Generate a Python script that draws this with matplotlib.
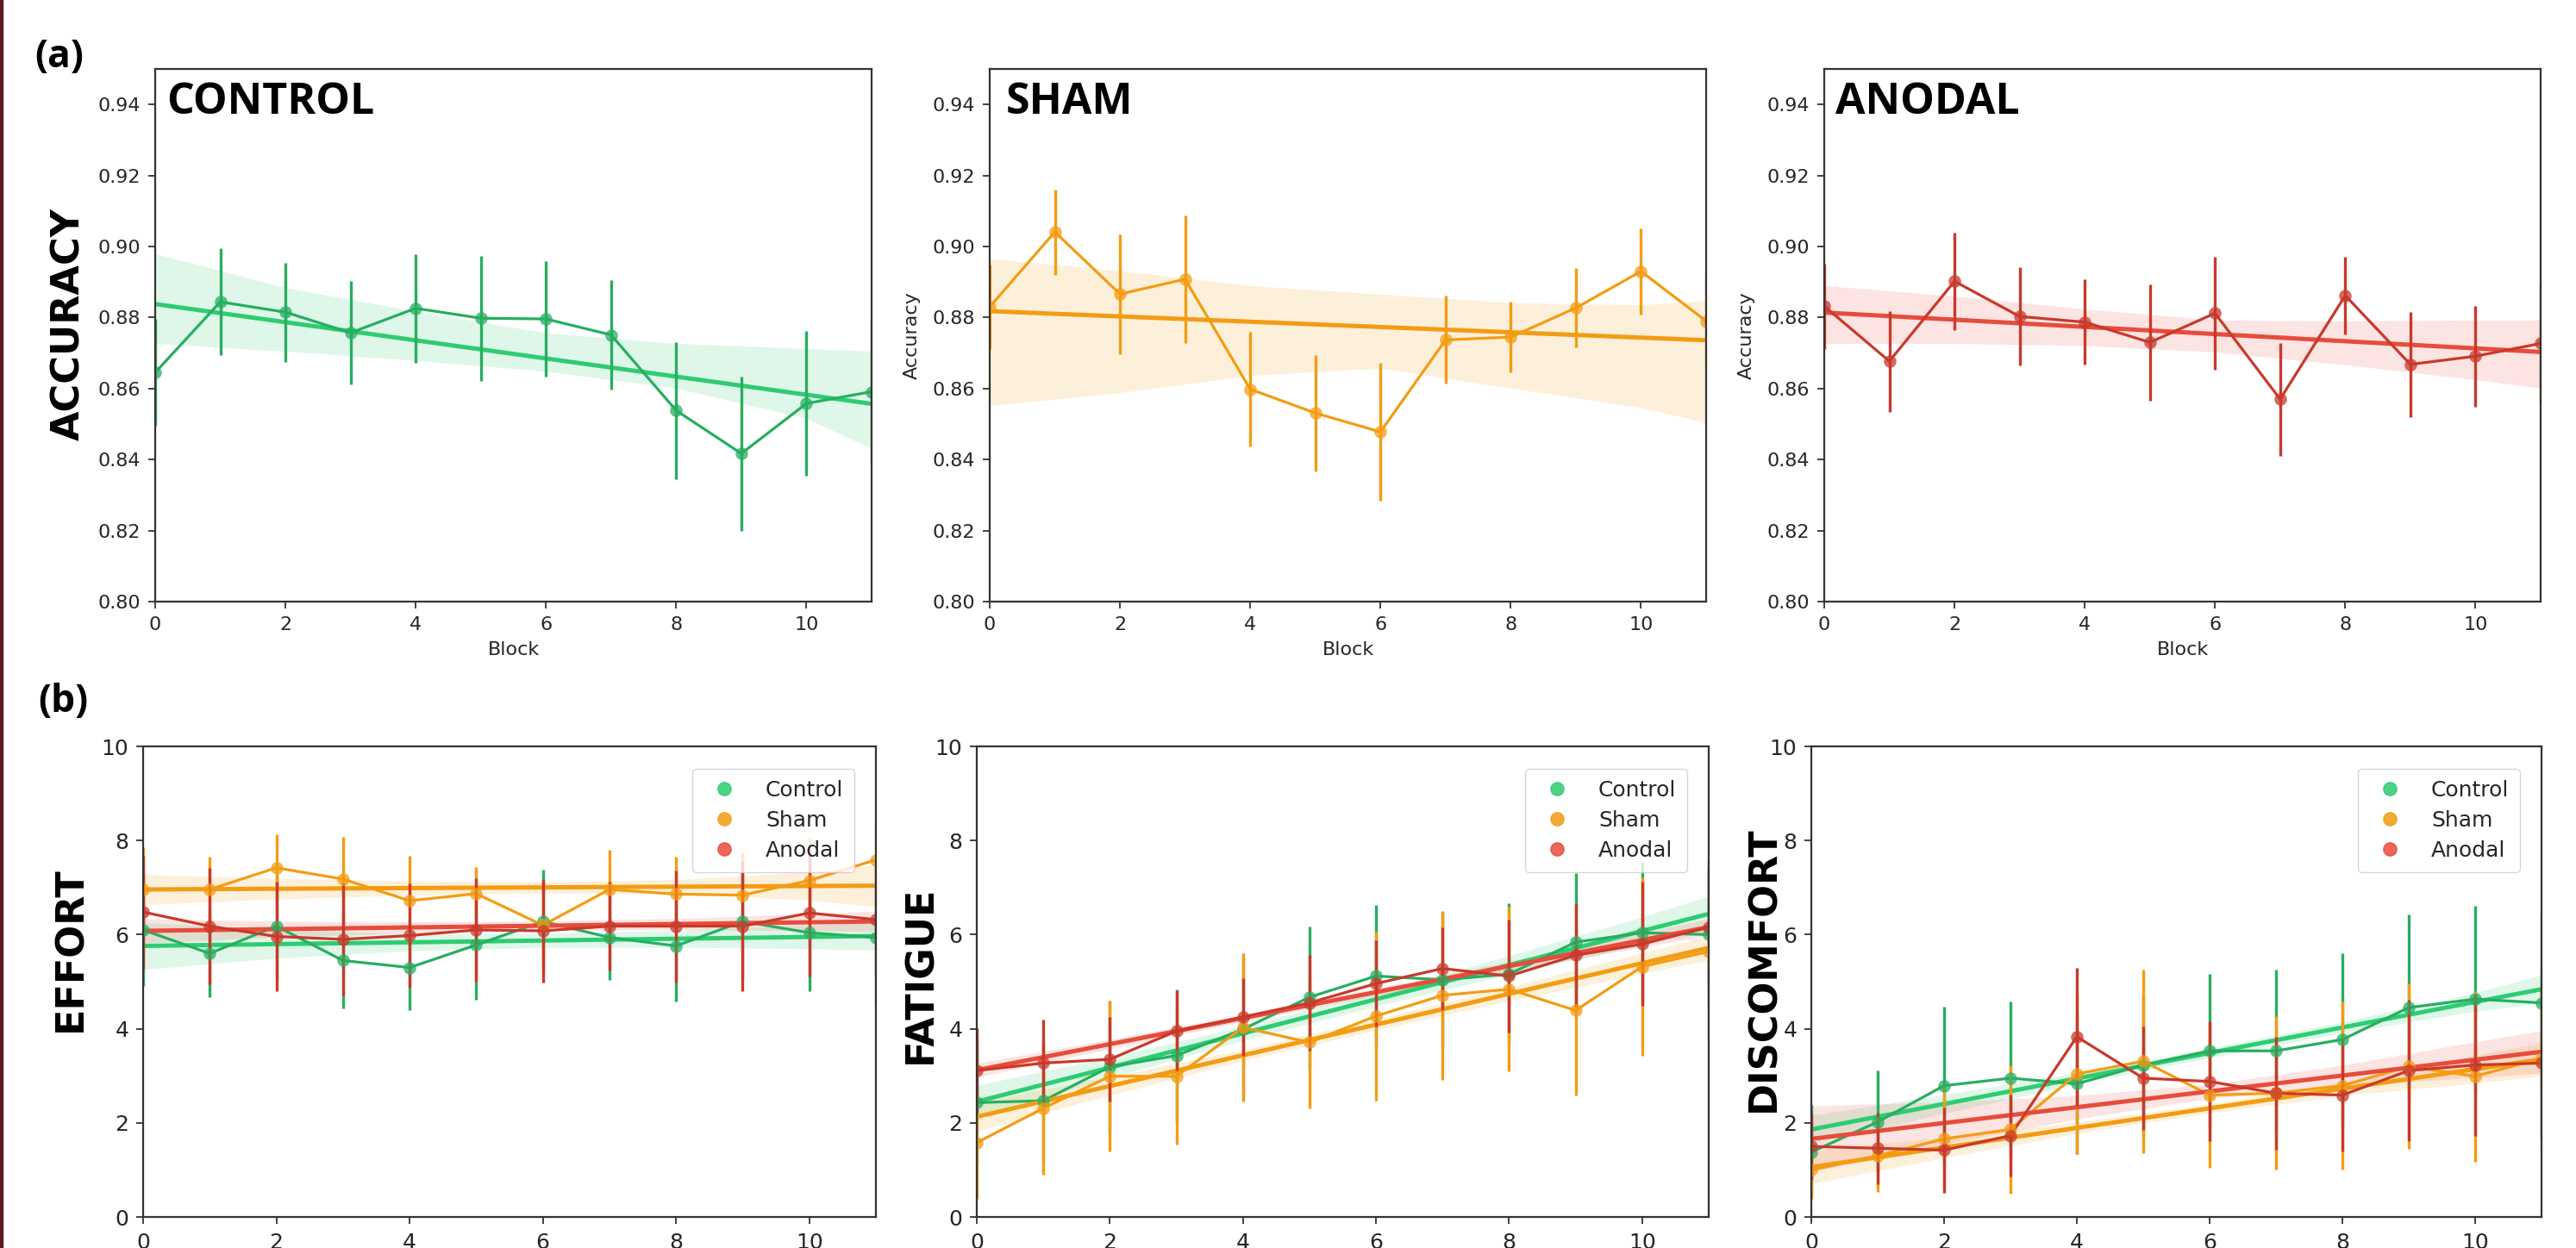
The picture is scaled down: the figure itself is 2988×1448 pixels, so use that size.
import numpy as np
import matplotlib
matplotlib.use("Agg")
import matplotlib.pyplot as plt
from matplotlib.lines import Line2D
from matplotlib.patches import Rectangle

# block index shared by every panel
blocks = np.arange(12)
band_x = [0, 2, 4, 6, 8, 10, 11]

# (a) accuracy per group: mean, ci half width, regression ends, ci band
acc_control = [0.8645, 0.8844, 0.8815, 0.8757, 0.8826, 0.8798, 0.8796, 0.8751, 0.8538, 0.8417, 0.8558, 0.8591]
acc_control_err = [0.015, 0.0151, 0.014, 0.0146, 0.0153, 0.0176, 0.0163, 0.0154, 0.0193, 0.0217, 0.0203, 0.0203]
acc_control_fit = [0.8838, 0.8557]
acc_control_hi = [0.8980, 0.8884, 0.8818, 0.8757, 0.8727, 0.8713, 0.8705]
acc_control_lo = [0.8727, 0.8705, 0.8679, 0.8649, 0.8601, 0.8516, 0.8431]

acc_sham = [0.8830, 0.9041, 0.8866, 0.8908, 0.8598, 0.8531, 0.8478, 0.8737, 0.8745, 0.8827, 0.8930, 0.8790]
acc_sham_err = [0.012, 0.012, 0.0169, 0.018, 0.0162, 0.0164, 0.0195, 0.0124, 0.010, 0.0112, 0.0122, 0.0134]
acc_sham_fit = [0.8818, 0.8736]
acc_sham_hi = [0.8966, 0.8932, 0.8890, 0.8866, 0.8842, 0.8836, 0.8848]
acc_sham_lo = [0.8552, 0.8588, 0.8637, 0.8657, 0.8601, 0.8546, 0.8504]

acc_anodal = [0.8832, 0.8677, 0.8902, 0.8803, 0.8787, 0.8730, 0.8812, 0.8570, 0.8862, 0.8668, 0.8691, 0.8727]
acc_anodal_err = [0.012, 0.0142, 0.0138, 0.0138, 0.012, 0.0164, 0.0158, 0.0159, 0.0109, 0.0148, 0.0142, 0.0165]
acc_anodal_fit = [0.8814, 0.8703]
acc_anodal_hi = [0.8890, 0.8860, 0.8824, 0.8793, 0.8790, 0.8793, 0.8793]
acc_anodal_lo = [0.8727, 0.8727, 0.8721, 0.8703, 0.8667, 0.8625, 0.8601]

# (b) ratings: mean, ci half width, regression ends, band half width
effort_control = [6.10, 5.60, 6.18, 5.45, 5.30, 5.78, 6.28, 5.94, 5.76, 6.28, 6.04, 5.94]
effort_control_err = [1.2, 0.93, 1.1, 1.02, 0.91, 1.16, 1.1, 0.9, 1.18, 1.2, 1.24, 1.43]
effort_sham = [6.96, 6.96, 7.42, 7.18, 6.72, 6.87, 6.20, 6.96, 6.86, 6.84, 7.15, 7.59]
effort_sham_err = [0.9, 0.7, 0.71, 0.9, 0.95, 0.56, 0.9, 0.85, 0.8, 0.9, 0.9, 0.76]
effort_anodal = [6.48, 6.18, 5.96, 5.90, 5.98, 6.10, 6.08, 6.18, 6.18, 6.18, 6.46, 6.32]
effort_anodal_err = [1.2, 1.23, 1.16, 1.2, 1.1, 1.1, 1.1, 0.94, 1.19, 1.38, 1.35, 1.2]
effort_fits = [[5.76, 5.97], [6.96, 7.04], [6.08, 6.28]]
effort_bands = [[0.5, 0.3, 0.18, 0.15, 0.18, 0.25, 0.3],
                [0.32, 0.22, 0.15, 0.12, 0.15, 0.3, 0.45],
                [0.26, 0.17, 0.12, 0.1, 0.12, 0.18, 0.22]]

fatigue_control = [2.43, 2.47, 3.19, 3.43, 3.99, 4.67, 5.12, 5.04, 5.16, 5.84, 6.04, 6.00]
fatigue_control_err = [1.3, 1.3, 1.4, 1.41, 1.5, 1.51, 1.51, 1.44, 1.5, 1.46, 1.5, 1.57]
fatigue_sham = [1.58, 2.31, 2.99, 2.99, 4.03, 3.71, 4.27, 4.71, 4.84, 4.39, 5.32, 5.64]
fatigue_sham_err = [1.2, 1.41, 1.6, 1.45, 1.57, 1.4, 1.8, 1.8, 1.75, 1.8, 1.89, 1.81]
fatigue_anodal = [3.11, 3.27, 3.35, 3.95, 4.25, 4.55, 4.96, 5.28, 5.12, 5.56, 5.80, 6.16]
fatigue_anodal_err = [0.9, 0.92, 0.9, 0.86, 0.83, 1.01, 0.92, 0.88, 1.2, 1.1, 1.32, 1.21]
fatigue_fits = [[2.45, 6.44], [2.13, 5.72], [3.12, 6.16]]
fatigue_bands = [[0.35, 0.22, 0.15, 0.15, 0.2, 0.3, 0.38],
                 [0.3, 0.2, 0.12, 0.12, 0.15, 0.22, 0.26],
                 [0.15, 0.1, 0.08, 0.08, 0.1, 0.15, 0.18]]

discomfort_control = [1.38, 2.02, 2.79, 2.95, 2.83, 3.23, 3.53, 3.53, 3.77, 4.45, 4.63, 4.55]
discomfort_control_err = [1.0, 1.09, 1.68, 1.62, 1.5, 1.5, 1.63, 1.72, 1.83, 1.98, 1.99, 1.87]
discomfort_sham = [1.00, 1.30, 1.66, 1.86, 3.04, 3.31, 2.59, 2.63, 2.79, 3.20, 2.99, 3.37]
discomfort_sham_err = [0.6, 0.76, 1.12, 1.36, 1.71, 1.95, 1.55, 1.63, 1.79, 1.76, 1.81, 1.9]
discomfort_anodal = [1.50, 1.46, 1.42, 1.73, 3.83, 2.95, 2.88, 2.63, 2.59, 3.11, 3.23, 3.27]
discomfort_anodal_err = [0.7, 0.76, 0.9, 0.87, 1.46, 1.1, 1.27, 1.2, 1.2, 1.5, 1.5, 1.6]
discomfort_fits = [[1.86, 4.84], [1.06, 3.35], [1.66, 3.51]]
discomfort_bands = [[0.3, 0.2, 0.12, 0.1, 0.12, 0.2, 0.3],
                    [0.35, 0.22, 0.12, 0.1, 0.15, 0.3, 0.35],
                    [0.7, 0.45, 0.25, 0.15, 0.22, 0.38, 0.45]]

groups = ["Control", "Sham", "Anodal"]
reg_colors = ["#2ecc71", "#f39c12", "#e74c3c"]
point_colors = ["#27ae60", "#f39c12", "#c8392b"]

W, H = 2988, 1448
fig = plt.figure(figsize=(W / 100, H / 100), dpi=100)
fig.patch.set_facecolor("white")


def px_axes(left, top, right, bottom):
    return fig.add_axes([left / W, 1 - bottom / H, (right - left) / W, (bottom - top) / H])


def style_axes(ax, fs):
    for s in ax.spines.values():
        s.set_color("#333333")
        s.set_linewidth(1.6)
        s.set_zorder(5)
    ax.tick_params(labelsize=fs, length=6, width=1.3, color="#333333", labelcolor="#262626", pad=6)
    ax.set_xlim(0, 11)
    ax.set_xticks([0, 2, 4, 6, 8, 10])


def draw_group(ax, mean, err, fit, lo, hi, ci_i):
    c_reg = reg_colors[ci_i]
    c_pt = point_colors[ci_i]
    ax.fill_between(band_x, lo, hi, color=c_reg, alpha=0.15, lw=0)
    ax.plot([0, 11], fit, color=c_reg, lw=3.6, solid_capstyle="butt")
    mean = np.array(mean)
    err = np.array(err)
    ax.vlines(blocks, mean - err, mean + err, color=c_pt, lw=2.4)
    ax.plot(blocks, mean, color=c_pt, lw=2.3)
    ax.scatter(blocks, mean, s=110, color=c_pt, alpha=0.75, lw=0, zorder=3)


# ---- (a) accuracy row ----
top_boxes = [(180, 80, 1011, 698), (1148, 80, 1979, 698), (2116, 80, 2947, 698)]
acc_sets = [
    (acc_control, acc_control_err, acc_control_fit, acc_control_lo, acc_control_hi),
    (acc_sham, acc_sham_err, acc_sham_fit, acc_sham_lo, acc_sham_hi),
    (acc_anodal, acc_anodal_err, acc_anodal_fit, acc_anodal_lo, acc_anodal_hi),
]
titles = ["CONTROL", "SHAM", "ANODAL"]
for i, box in enumerate(top_boxes):
    ax = px_axes(*box)
    m, e, f, lo, hi = acc_sets[i]
    draw_group(ax, m, e, f, lo, hi, i)
    style_axes(ax, 16)
    ax.set_ylim(0.80, 0.95)
    ax.set_yticks([0.80, 0.82, 0.84, 0.86, 0.88, 0.90, 0.92, 0.94])
    ax.set_yticklabels(["%.2f" % v for v in ax.get_yticks()])
    ax.set_xlabel("Block", fontsize=16, color="#262626", labelpad=7)
    if i > 0:
        ax.set_ylabel("Accuracy", fontsize=16, color="#262626", labelpad=10)
    ax.text(0.022 if i == 1 else 0.016, 0.978, titles[i], transform=ax.transAxes,
            fontsize=36, fontweight="bold", family="Open Sans", va="top", ha="left")

# ---- (b) ratings row ----
bottom_boxes = [(166, 866, 1016, 1412), (1133, 866, 1982, 1412), (2101, 866, 2948, 1412)]
rating_sets = [
    ([effort_control, effort_sham, effort_anodal],
     [effort_control_err, effort_sham_err, effort_anodal_err], effort_fits, effort_bands),
    ([fatigue_control, fatigue_sham, fatigue_anodal],
     [fatigue_control_err, fatigue_sham_err, fatigue_anodal_err], fatigue_fits, fatigue_bands),
    ([discomfort_control, discomfort_sham, discomfort_anodal],
     [discomfort_control_err, discomfort_sham_err, discomfort_anodal_err], discomfort_fits, discomfort_bands),
]
for i, box in enumerate(bottom_boxes):
    ax = px_axes(*box)
    means, errs, fits, bands = rating_sets[i]
    for g in range(3):
        line = np.interp(band_x, [0, 11], fits[g])
        lo = line - np.array(bands[g])
        hi = line + np.array(bands[g])
        draw_group(ax, means[g], errs[g], fits[g], lo, hi, g)
    style_axes(ax, 18)
    ax.tick_params(axis="x", pad=7)
    ax.set_ylim(0, 10)
    ax.set_yticks([0, 2, 4, 6, 8, 10])
    handles = [Line2D([], [], ls="none", marker="o", ms=11, color=reg_colors[g], alpha=0.85)
               for g in range(3)]
    leg = ax.legend(handles, groups, loc="upper right", fontsize=18, frameon=True,
                    borderpad=0.5, labelspacing=0.45, handletextpad=0.9,
                    bbox_to_anchor=(0.985, 0.975))
    leg.get_frame().set_edgecolor("#cccccc")
    for t in leg.get_texts():
        t.set_color("#262626")

# big row labels placed on the figure
fig.text(80 / W, 1 - 376 / H, "ACCURACY", rotation=90, fontsize=32, fontweight="bold",
         ha="center", va="center")
fig.text(82 / W, 1 - 1101 / H, "EFFORT", rotation=90, fontsize=32, fontweight="bold",
         ha="center", va="center")
fig.text(1068 / W, 1 - 1131 / H, "FATIGUE", rotation=90, fontsize=32, fontweight="bold",
         ha="center", va="center")
fig.text(2046 / W, 1 - 1124 / H, "DISCOMFORT", rotation=90, fontsize=32, fontweight="bold",
         ha="center", va="center")

fig.text(40 / W, 1 - 44 / H, "(a)", fontsize=32, fontweight="bold", family="Open Sans",
         ha="left", va="top")
fig.text(44 / W, 1 - 792 / H, "(b)", fontsize=32, fontweight="bold", family="Open Sans",
         ha="left", va="top")

# thin dark red frame edge on the left of the source image
fig.patches.append(Rectangle((0, 0), 3 / W, 1, transform=fig.transFigure,
                             color="#5c1a1f", zorder=10))

fig.savefig("out.png", dpi=100)
